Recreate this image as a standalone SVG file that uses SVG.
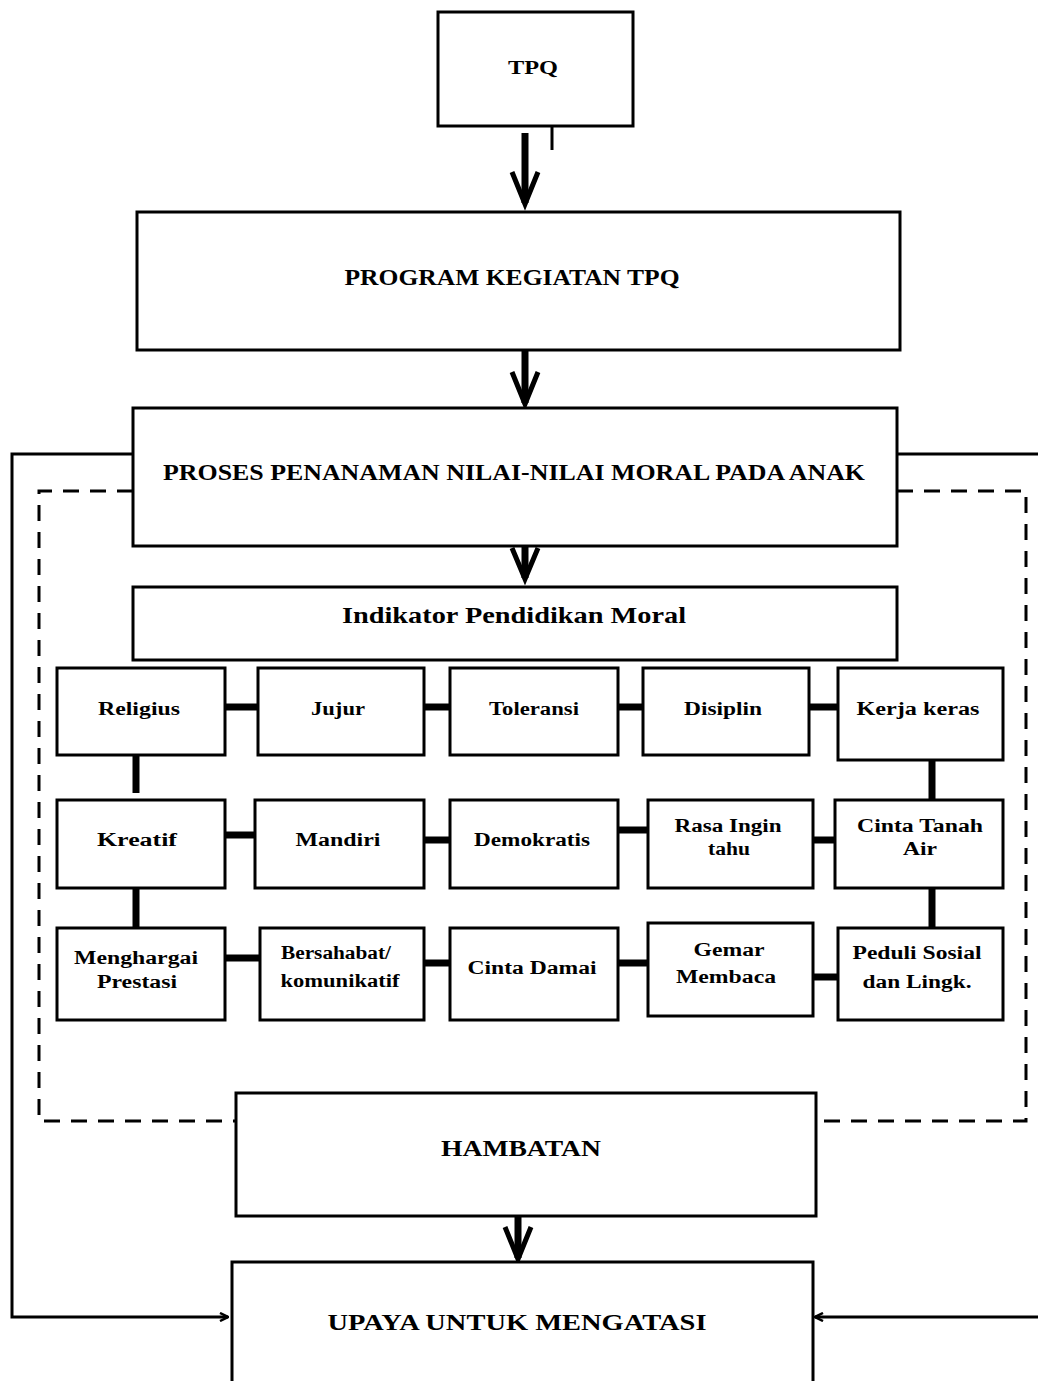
<svg xmlns="http://www.w3.org/2000/svg" width="1038" height="1381" viewBox="0 0 1038 1381">
<style>
.box{fill:#fff;stroke:#000;stroke-width:3}
.t{font-family:"Liberation Serif","Times New Roman",serif;font-weight:bold;fill:#000;text-anchor:middle;dominant-baseline:central}
.big{font-size:24px}
.sm{font-size:18px}
.link{stroke:#000;stroke-width:7;fill:none}
.shaft{stroke:#000;stroke-width:7;fill:none}
.head{stroke:#000;stroke-width:5;fill:none;stroke-linejoin:miter}
.thin{stroke:#000;stroke-width:3;fill:none}
.dash{stroke:#000;stroke-width:3;fill:none;stroke-dasharray:16 11}
</style>
<defs>
<marker id="ah" markerWidth="10" markerHeight="10" refX="9" refY="5" orient="auto" markerUnits="userSpaceOnUse">
<path d="M1,1 L9,5 L1,9" fill="none" stroke="#000" stroke-width="2.5"/>
</marker>
</defs>
<rect width="1038" height="1381" fill="#fff"/>
<g id="connectors">
<line class="thin" x1="552" y1="116" x2="552" y2="150"/>
<line class="shaft" x1="525" y1="133" x2="525" y2="203"/>
<polyline class="head" points="512,172 525,204 538,172"/>
<line class="shaft" x1="525" y1="350" x2="525" y2="403"/>
<polyline class="head" points="512,372 525,404 538,372"/>
<line class="shaft" x1="525" y1="546" x2="525" y2="578"/>
<polyline class="head" points="512,548 525,579 538,548"/>
<line class="shaft" x1="518" y1="1216" x2="518" y2="1258"/>
<polyline class="head" points="505,1227 518,1259 531,1227"/>
<polyline class="thin" points="133,454 12,454 12,1317 228,1317" marker-end="url(#ah)"/>
<polyline class="thin" points="897,454 1038,454"/>
<line class="thin" x1="1038" y1="1317" x2="815" y2="1317" marker-end="url(#ah)"/>
<polyline class="dash" points="133,491 39,491 39,1121 236,1121"/>
<polyline class="dash" points="897,491 1026,491 1026,1121 816,1121"/>
<line class="link" x1="225" y1="707" x2="258" y2="707"/>
<line class="link" x1="424" y1="707" x2="450" y2="707"/>
<line class="link" x1="618" y1="707" x2="643" y2="707"/>
<line class="link" x1="809" y1="707" x2="838" y2="707"/>
<line class="link" x1="136" y1="755" x2="136" y2="793"/>
<line class="link" x1="932" y1="760" x2="932" y2="800"/>
<line class="link" x1="225" y1="835" x2="255" y2="835"/>
<line class="link" x1="424" y1="840" x2="450" y2="840"/>
<line class="link" x1="618" y1="830" x2="648" y2="830"/>
<line class="link" x1="813" y1="840" x2="835" y2="840"/>
<line class="link" x1="136" y1="888" x2="136" y2="928"/>
<line class="link" x1="932" y1="888" x2="932" y2="928"/>
<line class="link" x1="225" y1="958" x2="260" y2="958"/>
<line class="link" x1="424" y1="963" x2="450" y2="963"/>
<line class="link" x1="618" y1="963" x2="648" y2="963"/>
<line class="link" x1="813" y1="977" x2="838" y2="977"/>
</g>
<g id="tpq"><rect class="box" x="438" y="12" width="195" height="114"/><text class="t sm" x="533" y="68" textLength="50" lengthAdjust="spacingAndGlyphs">TPQ</text></g>
<g id="program"><rect class="box" x="137" y="212" width="763" height="138"/><text class="t big" x="512" y="277" textLength="335" lengthAdjust="spacingAndGlyphs">PROGRAM KEGIATAN TPQ</text></g>
<g id="proses"><rect class="box" x="133" y="408" width="764" height="138"/><text class="t big" x="514" y="472" textLength="702" lengthAdjust="spacingAndGlyphs">PROSES PENANAMAN NILAI-NILAI MORAL PADA ANAK</text></g>
<g id="indikator"><rect class="box" x="133" y="587" width="764" height="73"/><text class="t big" x="514" y="615" textLength="344" lengthAdjust="spacingAndGlyphs">Indikator Pendidikan Moral</text></g>
<g id="religius"><rect class="box" x="57" y="668" width="168" height="87"/><text class="t sm" x="139" y="709" textLength="82" lengthAdjust="spacingAndGlyphs">Religius</text></g>
<g id="jujur"><rect class="box" x="258" y="668" width="166" height="87"/><text class="t sm" x="338" y="709" textLength="54" lengthAdjust="spacingAndGlyphs">Jujur</text></g>
<g id="toleransi"><rect class="box" x="450" y="668" width="168" height="87"/><text class="t sm" x="534" y="709" textLength="90" lengthAdjust="spacingAndGlyphs">Toleransi</text></g>
<g id="disiplin"><rect class="box" x="643" y="668" width="166" height="87"/><text class="t sm" x="723" y="709" textLength="78" lengthAdjust="spacingAndGlyphs">Disiplin</text></g>
<g id="kerjakeras"><rect class="box" x="838" y="668" width="165" height="92"/><text class="t sm" x="918" y="709" textLength="123" lengthAdjust="spacingAndGlyphs">Kerja keras</text></g>
<g id="kreatif"><rect class="box" x="57" y="800" width="168" height="88"/><text class="t sm" x="137" y="840" textLength="80" lengthAdjust="spacingAndGlyphs">Kreatif</text></g>
<g id="mandiri"><rect class="box" x="255" y="800" width="169" height="88"/><text class="t sm" x="338" y="840" textLength="85" lengthAdjust="spacingAndGlyphs">Mandiri</text></g>
<g id="demokratis"><rect class="box" x="450" y="800" width="168" height="88"/><text class="t sm" x="532" y="840" textLength="116" lengthAdjust="spacingAndGlyphs">Demokratis</text></g>
<g id="rasaingintahu"><rect class="box" x="648" y="800" width="165" height="88"/><text class="t sm" x="728" y="826" textLength="107" lengthAdjust="spacingAndGlyphs">Rasa Ingin</text><text class="t sm" x="729" y="849" textLength="42" lengthAdjust="spacingAndGlyphs">tahu</text></g>
<g id="cintatanahair"><rect class="box" x="835" y="800" width="168" height="88"/><text class="t sm" x="920" y="826" textLength="126" lengthAdjust="spacingAndGlyphs">Cinta Tanah</text><text class="t sm" x="920" y="849" textLength="34" lengthAdjust="spacingAndGlyphs">Air</text></g>
<g id="menghargai"><rect class="box" x="57" y="928" width="168" height="92"/><text class="t sm" x="136" y="958" textLength="124" lengthAdjust="spacingAndGlyphs">Menghargai</text><text class="t sm" x="137" y="982" textLength="80" lengthAdjust="spacingAndGlyphs">Prestasi</text></g>
<g id="bersahabat"><rect class="box" x="260" y="928" width="164" height="92"/><text class="t sm" x="336" y="953" textLength="110" lengthAdjust="spacingAndGlyphs">Bersahabat/</text><text class="t sm" x="340" y="981" textLength="119" lengthAdjust="spacingAndGlyphs">komunikatif</text></g>
<g id="cintadamai"><rect class="box" x="450" y="928" width="168" height="92"/><text class="t sm" x="532" y="968" textLength="129" lengthAdjust="spacingAndGlyphs">Cinta Damai</text></g>
<g id="gemarmembaca"><rect class="box" x="648" y="923" width="165" height="93"/><text class="t sm" x="729" y="950" textLength="71" lengthAdjust="spacingAndGlyphs">Gemar</text><text class="t sm" x="726" y="977" textLength="100" lengthAdjust="spacingAndGlyphs">Membaca</text></g>
<g id="peduli"><rect class="box" x="838" y="928" width="165" height="92"/><text class="t sm" x="917" y="953" textLength="129" lengthAdjust="spacingAndGlyphs">Peduli Sosial</text><text class="t sm" x="917" y="982" textLength="109" lengthAdjust="spacingAndGlyphs">dan Lingk.</text></g>
<g id="hambatan"><rect class="box" x="236" y="1093" width="580" height="123"/><text class="t big" x="521" y="1148" textLength="160" lengthAdjust="spacingAndGlyphs">HAMBATAN</text></g>
<g id="upaya"><rect class="box" x="232" y="1262" width="581" height="130"/><text class="t big" x="517" y="1322" textLength="379" lengthAdjust="spacingAndGlyphs">UPAYA UNTUK MENGATASI</text></g>
</svg>
